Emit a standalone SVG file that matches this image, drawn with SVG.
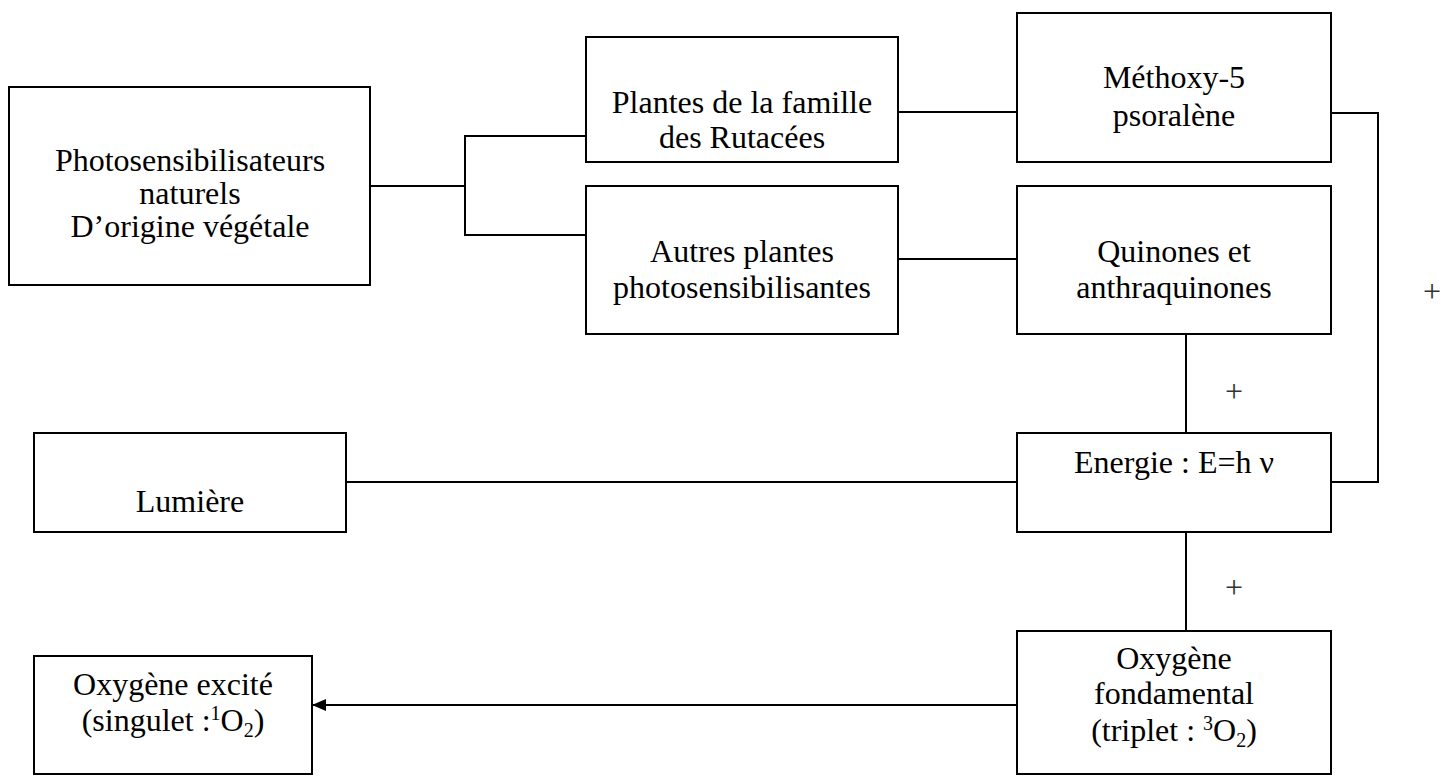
<svg xmlns="http://www.w3.org/2000/svg" width="1445" height="776" viewBox="0 0 1445 776">
  <style>
    .box { fill: #ffffff; stroke: #000000; stroke-width: 2; }
    .wire { fill: none; stroke: #000000; stroke-width: 2; }
    text { font-family: "Liberation Serif", "Times New Roman", serif; font-size: 32px; fill: #000000; text-anchor: middle; }
    .plus { fill: #333333; }
    .sup { font-size: 20px; }
  </style>
  <defs>
    <marker id="arrowhead" markerWidth="14" markerHeight="12" refX="13" refY="6" orient="auto" markerUnits="userSpaceOnUse">
      <path d="M0,0 L14,6 L0,12 Z" fill="#000000"/>
    </marker>
  </defs>

  <!-- connectors -->
  <g id="connectors">
    <polyline class="wire" points="370,186 465,186"/>
    <polyline class="wire" points="586,136 465,136 465,235 586,235"/>
    <polyline class="wire" points="898,112 1017,112"/>
    <polyline class="wire" points="898,259 1017,259"/>
    <polyline class="wire" points="1331,113 1378,113 1378,482 1331,482"/>
    <polyline class="wire" points="1186,334 1186,433"/>
    <polyline class="wire" points="346,482 1017,482"/>
    <polyline class="wire" points="1186,532 1186,631"/>
    <line class="wire" x1="1017" y1="705" x2="313" y2="705" marker-end="url(#arrowhead)"/>
    <text class="plus" x="1234" y="402">+</text>
    <text class="plus" x="1234" y="598">+</text>
    <text class="plus" x="1432" y="302">+</text>
  </g>

  <g id="photosensibilisateurs">
    <rect class="box" x="9" y="87" width="361" height="198"/>
    <text x="190" y="171">Photosensibilisateurs</text>
    <text x="190" y="204">naturels</text>
    <text x="190" y="237">D’origine végétale</text>
  </g>

  <g id="rutacees">
    <rect class="box" x="586" y="37" width="312" height="125"/>
    <text x="742" y="113">Plantes de la famille</text>
    <text x="742" y="148">des Rutacées</text>
  </g>

  <g id="autres-plantes">
    <rect class="box" x="586" y="186" width="312" height="148"/>
    <text x="742" y="262">Autres plantes</text>
    <text x="742" y="298">photosensibilisantes</text>
  </g>

  <g id="methoxy">
    <rect class="box" x="1017" y="13" width="314" height="149"/>
    <text x="1174" y="88">Méthoxy-5</text>
    <text x="1174" y="126">psoralène</text>
  </g>

  <g id="quinones">
    <rect class="box" x="1017" y="186" width="314" height="148"/>
    <text x="1174" y="262">Quinones et</text>
    <text x="1174" y="298">anthraquinones</text>
  </g>

  <g id="lumiere">
    <rect class="box" x="34" y="433" width="312" height="99"/>
    <text x="190" y="512">Lumière</text>
  </g>

  <g id="energie">
    <rect class="box" x="1017" y="433" width="314" height="99"/>
    <text x="1174" y="473">Energie : E=h ν</text>
  </g>

  <g id="oxygene-excite">
    <rect class="box" x="34" y="656" width="278" height="118"/>
    <text x="173" y="695">Oxygène excité</text>
    <text x="173" y="731">(singulet :<tspan class="sup" dy="-11">1</tspan><tspan dy="11">O</tspan><tspan class="sup" dy="6">2</tspan><tspan dy="-6">)</tspan></text>
  </g>

  <g id="oxygene-fondamental">
    <rect class="box" x="1017" y="631" width="314" height="143"/>
    <text x="1174" y="669">Oxygène</text>
    <text x="1174" y="704">fondamental</text>
    <text x="1174" y="741">(triplet : <tspan class="sup" dy="-11">3</tspan><tspan dy="11">O</tspan><tspan class="sup" dy="6">2</tspan><tspan dy="-6">)</tspan></text>
  </g>
</svg>
